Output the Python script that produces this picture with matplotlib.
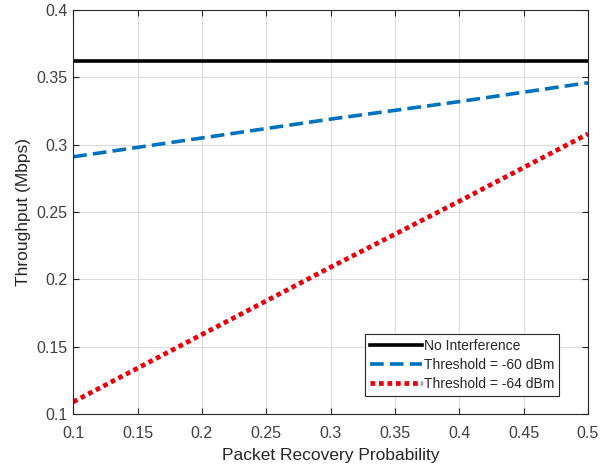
import matplotlib
matplotlib.use('Agg')
import matplotlib.pyplot as plt
import numpy as np

# Data
p_recovery = [0.1, 0.2, 0.3, 0.4, 0.5]
no_interference = [0.362, 0.362, 0.362, 0.362, 0.362]
thresh_60 = [0.291, 0.305, 0.319, 0.332, 0.346]
thresh_64 = [0.109, 0.159, 0.209, 0.258, 0.308]

xticks = [0.1, 0.15, 0.2, 0.25, 0.3, 0.35, 0.4, 0.45, 0.5]
yticks = [0.1, 0.15, 0.2, 0.25, 0.3, 0.35, 0.4]
xtick_labels = ['0.1', '0.15', '0.2', '0.25', '0.3', '0.35', '0.4', '0.45', '0.5']
ytick_labels = ['0.1', '0.15', '0.2', '0.25', '0.3', '0.35', '0.4']

plt.rcParams['font.family'] = ['Liberation Sans', 'DejaVu Sans']

fig = plt.figure(figsize=(6.15, 4.67), dpi=100)
ax = fig.add_axes([0.119, 0.1135, 0.837, 0.865])

ax.plot(p_recovery, no_interference, color='black', linewidth=2.6, label='No Interference')
ax.plot(p_recovery, thresh_60, color='#0072BD', linestyle=(0, (3.8, 1.7)), linewidth=2.6,
        label='Threshold = -60 dBm')
ax.plot(p_recovery, thresh_64, color='#e8000b', linestyle=(0, (1, 0.8)), linewidth=3.4,
        label='Threshold = -64 dBm')

ax.set_xlim(0.1, 0.5)
ax.set_ylim(0.1, 0.4)
ax.set_xticks(xticks)
ax.set_xticklabels(xtick_labels)
ax.set_yticks(yticks)
ax.set_yticklabels(ytick_labels)
ax.grid(True, color='#dcdcdc', linewidth=0.8)
ax.tick_params(direction='in', labelsize=11.5, colors='#262626', labelcolor='#404040',
               top=True, right=True, length=4)
ax.tick_params(axis='x', pad=9)
ax.tick_params(axis='y', pad=4)
for s in ax.spines.values():
    s.set_color('#262626')
    s.set_linewidth(0.8)

ax.set_xlabel('Packet Recovery Probability', fontsize=12.5, color='#262626', labelpad=5)
ax.set_ylabel('Throughput (Mbps)', fontsize=12.5, color='#262626', labelpad=4)

leg = ax.legend(loc='lower right', bbox_to_anchor=(0.944, 0.045), fontsize=10,
                fancybox=False, framealpha=1, edgecolor='#262626',
                handlelength=3.8, handletextpad=0.1, borderpad=0.35, labelspacing=0.35,
                borderaxespad=0)
leg.get_frame().set_linewidth(0.8)
for t in leg.get_texts():
    t.set_color('#262626')

plt.savefig('out.png', dpi=100)
